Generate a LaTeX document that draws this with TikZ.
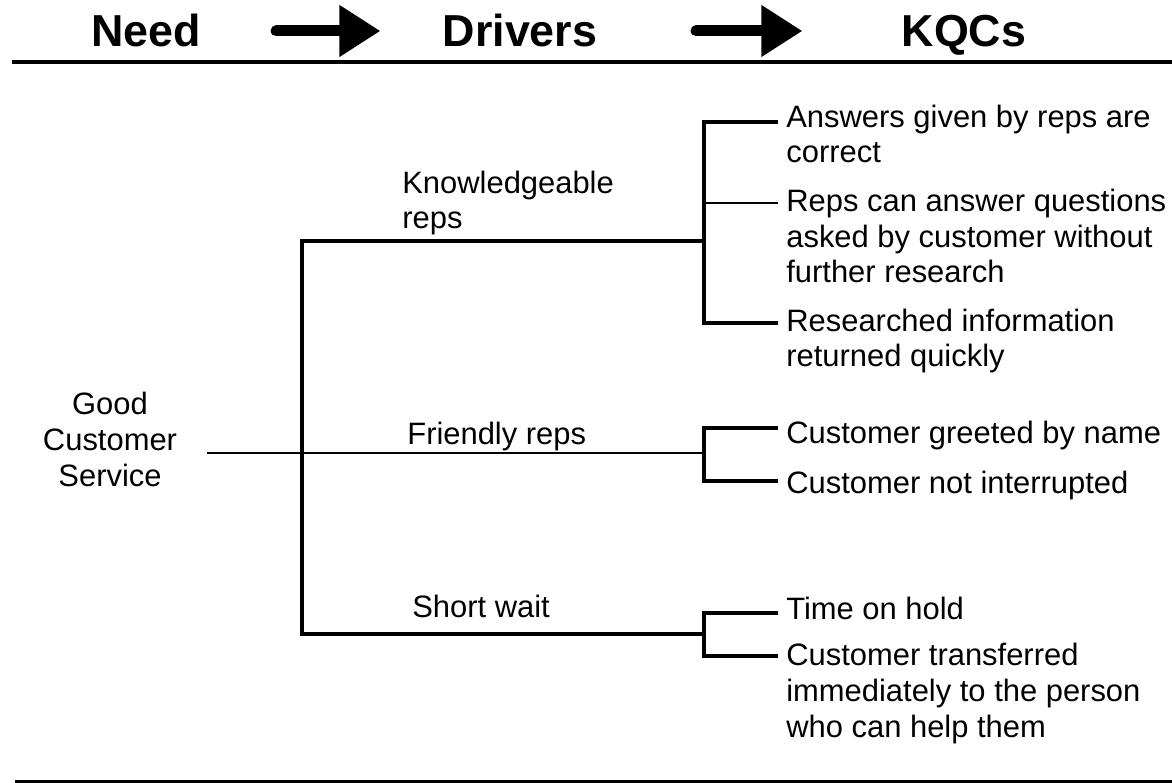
\documentclass[tikz,border=0pt]{standalone}
\usepackage{fontspec}
\setmainfont{Liberation Sans}
\usetikzlibrary{arrows.meta}

\begin{document}
\begin{tikzpicture}[
    x=0.02cm, y=-0.02cm, % One unit per pixel of the layout
    heading/.style={font=\fontsize{25.5pt}{30pt}\selectfont\bfseries, inner sep=0pt, anchor=base}, % Style for column titles
    itemtext/.style={font=\fontsize{17.6pt}{20.4pt}\selectfont, inner sep=0pt, anchor=base west, align=left}, % Style for driver and KQC texts (placed by last line)
    bigarrow/.style={line width=0.22cm, line cap=round, -{Triangle[length=0.82cm, width=0.98cm]}}, % Style for title arrows
    rule/.style={line width=0.08cm}, % Style for horizontal rules
    bar/.style={line width=0.08cm, line join=miter}, % Style for thick tree lines
    twig/.style={line width=0.04cm} % Style for thin tree lines
]
    \useasboundingbox (0,0) rectangle (1172,783);

    % Column titles
    \node[heading] (need) at (146,47) {Need};
    \node[heading] (drivers) at (520,47) {Drivers};
    \node[heading] (kqcs) at (964,47) {KQCs};

    % Arrows between titles
    \draw[bigarrow, shorten <=1.5cm, shorten >=1.24cm] (need.east) -- (drivers.west);
    \draw[bigarrow, shorten <=1.97cm, shorten >=1.98cm] (drivers.east) -- (drivers.east -| kqcs.west);

    % Top and bottom rules
    \draw[rule] (12,62) -- (1172,62);
    \draw[rule, line width=0.06cm] (15,781) -- (1172,781);

    % Need
    \node[itemtext, anchor=base, align=center] (gcs) at (110,486) {Good\\Customer\\Service};

    % Drivers
    \node[itemtext] (know) at (402,229) {Knowledgeable\\reps};
    \node[itemtext] (friend) at (407,444) {Friendly reps};
    \node[itemtext] (wait) at (412,617) {Short wait};

    % KQCs
    \node[itemtext] (k1) at (786,163) {Answers given by reps are\\correct};
    \node[itemtext] (k2) at (786,283) {Reps can answer questions\\asked by customer without\\further research};
    \node[itemtext] (k3) at (786,367) {Researched information\\returned quickly};
    \node[itemtext] (k4) at (786,443) {Customer greeted by name};
    \node[itemtext] (k5) at (786,493) {Customer not interrupted};
    \node[itemtext] (k6) at (786,619) {Time on hold};
    \node[itemtext] (k7) at (786,737) {Customer transferred\\immediately to the person\\who can help them};

    % Tree joints
    \coordinate (top) at (302,241);
    \coordinate (bot) at (302,634);
    \coordinate (b1) at (704,241);
    \coordinate (b2) at (704,453);
    \coordinate (b3) at (704,634);
    \coordinate (a1) at (704,122);
    \coordinate (a2) at (704,203);
    \coordinate (a3) at (704,323);
    \coordinate (a4) at (704,428);
    \coordinate (a5) at (704,481);
    \coordinate (a6) at (704,613);
    \coordinate (a7) at (704,656);

    % Need to drivers
    \draw[bar] (b1) -- (top) -- (bot) -- (b3);
    \draw[twig, shorten <=0.6cm] (gcs.east |- b2) -- (b2);

    % Drivers to KQCs
    \draw[bar, shorten <=0.16cm, shorten >=0.16cm] (k1.west |- a1) -- (a1) -- (a3) -- (k3.west |- a3);
    \draw[twig, shorten >=0.16cm] (a2) -- (k2.west |- a2);
    \draw[bar, shorten <=0.16cm, shorten >=0.16cm] (k4.west |- a4) -- (a4) -- (a5) -- (k5.west |- a5);
    \draw[bar, shorten <=0.16cm, shorten >=0.16cm] (k6.west |- a6) -- (a6) -- (a7) -- (k7.west |- a7);

\end{tikzpicture}
\end{document}
